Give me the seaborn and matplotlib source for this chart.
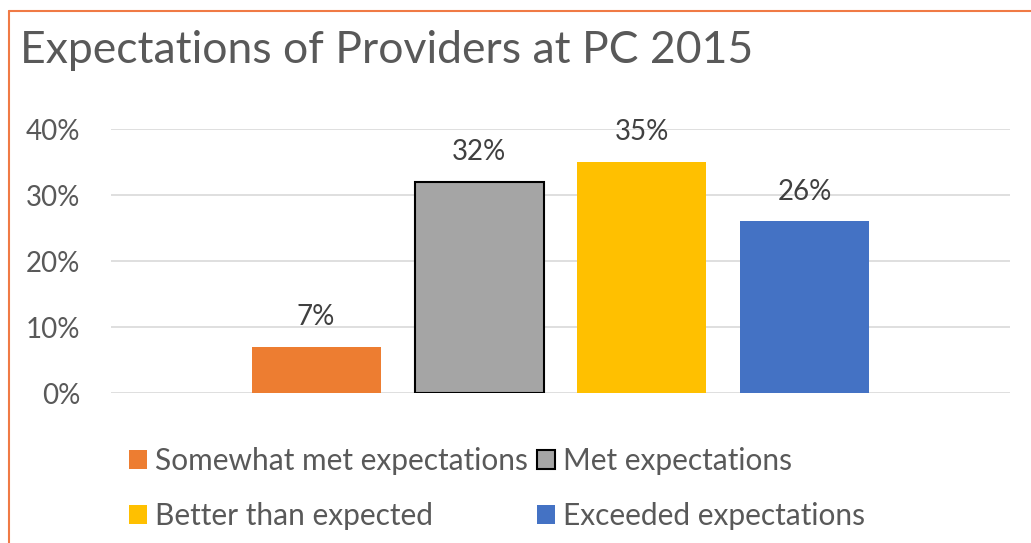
import numpy as np
import pandas as pd
import matplotlib.pyplot as plt
import seaborn as sns
from matplotlib.patches import Patch
from matplotlib.lines import Line2D

# ------------------------------
# Data
# ------------------------------
title = "Expectations of Providers at PC 2015"
responses = ["Somewhat met expectations", "Met expectations",
             "Better than expected", "Exceeded expectations"]
shares = [0.07, 0.32, 0.35, 0.26]
colors = ["#ED7D31", "#A5A5A5", "#FFC000", "#4472C4"]
y_ticks = [0.0, 0.1, 0.2, 0.3, 0.4]

df = pd.DataFrame({"group": [""] * len(responses),
                   "response": responses,
                   "share": shares})

# ------------------------------
# Style
# ------------------------------
sns.set_style("white")
plt.rcParams["font.family"] = ["Lato", "DejaVu Sans"]

fig = plt.figure(figsize=(10.31, 5.43), dpi=100)
ax = fig.add_axes([111 / 1031, 1 - 393 / 543, 899 / 1031, 264 / 543])

sns.barplot(data=df, x="group", y="share", hue="response",
            hue_order=responses, palette=colors, width=0.725, gap=0.208,
            saturation=1, legend=False, ax=ax)

# the grey bar has a black outline
for patch, resp in zip(ax.patches, responses):
    patch.set_linewidth(0)
    if resp == "Met expectations":
        patch.set_edgecolor("black")
        patch.set_linewidth(1.5)

# value labels above bars
for cont in ax.containers:
    ax.bar_label(cont, labels=[f"{v * 100:.0f}%" for v in cont.datavalues],
                 padding=12, fontsize=20, color="#404040")

ax.set_xlim(-0.5, 0.5)
ax.set_ylim(0, 0.4)
ax.set_yticks(y_ticks)
ax.set_yticklabels([f"{t * 100:.0f}%" for t in y_ticks])
ax.tick_params(axis="y", length=0, pad=22, labelsize=20, labelcolor="#595959")
ax.set_xticks([])
ax.set_xlabel("")
ax.set_ylabel("")
ax.grid(axis="y", color="#D9D9D9", linewidth=1.2)
ax.set_axisbelow(True)
for s in ax.spines.values():
    s.set_visible(False)

fig.text(20 / 1031, 1 - 63 / 543, title, fontsize=32, color="#595959",
         ha="left", va="baseline")

# legend, filled row by row
order = [0, 2, 1, 3]
handles = []
for i in order:
    ec = "black" if responses[i] == "Met expectations" else colors[i]
    handles.append(Patch(facecolor=colors[i], edgecolor=ec,
                         linewidth=1.5 if ec == "black" else 0))
fig.legend(handles, [responses[i] for i in order], ncol=2,
           loc="upper left", bbox_to_anchor=(129 / 1031, 1 - 447 / 543),
           frameon=False, fontsize=21.5, labelcolor="#595959",
           borderpad=0, borderaxespad=0,
           handlelength=0.6, handleheight=0.6, handletextpad=0.27,
           columnspacing=0.3, labelspacing=0.9)

# orange frame at top-left
fig.add_artist(Line2D([9 / 1031, 9 / 1031], [0, 1 - 11 / 543],
                      transform=fig.transFigure, color="#F07A45", linewidth=1.5))
fig.add_artist(Line2D([9 / 1031, 1], [1 - 11 / 543, 1 - 11 / 543],
                      transform=fig.transFigure, color="#F07A45", linewidth=1.5))

fig.savefig("out.png", dpi=100)
